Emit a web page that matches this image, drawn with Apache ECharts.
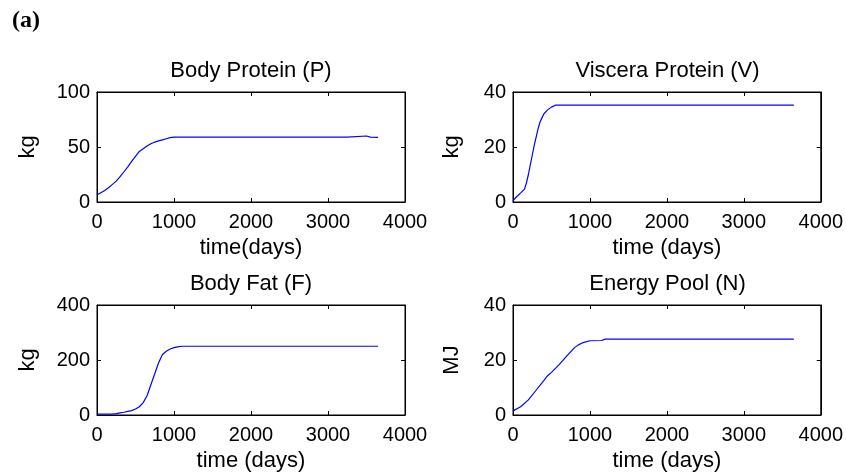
<!DOCTYPE html>
<html>
<head>
<meta charset="utf-8">
<script src="https://cdn.jsdelivr.net/npm/echarts@6/dist/echarts.min.js"></script>
<style>
  html, body { margin: 0; padding: 0; background: #fff; }
  #chart { width: 846px; height: 476px; }
</style>
</head>
<body>
<div id="chart"></div>
<script>
// Simulated growth curves, time in days
const xTicks = [0, 1000, 2000, 3000, 4000];

const proteinDays = [0, 50, 100, 150, 200, 250, 300, 350, 400, 450, 500, 550, 600, 650, 700, 750, 800, 850, 900, 950, 1000, 3250, 3270, 3500, 3550, 3650];
const proteinKg   = [6.5, 8.5, 10.5, 13, 16, 19, 23, 27.5, 32, 37, 41.5, 46, 48.5, 51, 53, 54.5, 55.5, 56.5, 57.5, 58.5, 59, 59, 60, 60, 59, 58.8];

const visceraDays = [0, 50, 100, 150, 175, 200, 225, 250, 275, 300, 325, 350, 375, 400, 450, 500, 550, 3650];
const visceraKg   = [0.5, 2, 3.3, 4.7, 7, 10, 13.5, 17, 20.5, 23.5, 26.5, 29, 30.5, 32, 33.5, 34.5, 35.2, 35.2];

const fatDays = [0, 100, 200, 250, 300, 350, 400, 450, 500, 550, 600, 650, 700, 750, 800, 850, 900, 950, 1000, 1050, 1100, 3650];
const fatKg   = [3, 3, 3.5, 5, 8, 10, 13, 16, 22, 30, 45, 70, 110, 150, 190, 220, 232, 240, 245, 248, 250, 250];

const energyDays = [0, 100, 200, 300, 400, 450, 500, 600, 700, 800, 850, 900, 1000, 1150, 1200, 3650];
const energyMJ   = [1.5, 3, 5.5, 9, 12.5, 14.3, 15.5, 18.3, 21.5, 24.5, 25.5, 26.2, 27, 27.1, 27.6, 27.6];

const panelTitles = ['Body Protein (P)', 'Viscera Protein (V)', 'Body Fat (F)', 'Energy Pool (N)'];
const xNames = ['time(days)', 'time (days)', 'time (days)', 'time (days)'];
const yNames = ['kg', 'kg', 'kg', 'MJ'];
const yMax = [100, 40, 400, 40];
const yStep = [50, 20, 200, 20];

const panels = [
  { days: proteinDays, vals: proteinKg },
  { days: visceraDays, vals: visceraKg },
  { days: fatDays, vals: fatKg },
  { days: energyDays, vals: energyMJ }
];

const FONT = '"Liberation Sans", Arial, Helvetica, sans-serif';
const FS = 20;      // tick labels
const FS_TXT = 22;  // titles and axis names
const INK = '#000';

// panel boxes in pixels
const boxes = [
  { left: 97, top: 92, width: 308, height: 110 },
  { left: 513, top: 92, width: 309, height: 110 },
  { left: 97, top: 305, width: 308, height: 110 },
  { left: 513, top: 305, width: 309, height: 110 }
];
const yNameGap = [58, 50, 58, 50];

const grids = [], xAxes = [], yAxes = [], series = [], titles = [];

titles.push({
  text: '(a)', left: 12, top: 9, padding: 0,
  textStyle: { fontFamily: '"Liberation Serif", "Times New Roman", serif', fontWeight: 'bold', fontSize: 24, color: INK }
});

const plain = v => String(v);
const mkLine = () => ({ show: true, onZero: false, lineStyle: { color: INK, width: 1 } });
const mkTick = () => ({ show: true, inside: true, length: 4, lineStyle: { color: INK, width: 1 } });

boxes.forEach((b, i) => {
  // framed plotting box
  grids.push({
    left: b.left, top: b.top, width: b.width, height: b.height,
    show: true, borderColor: INK, borderWidth: 1, backgroundColor: 'transparent'
  });
  titles.push({
    text: panelTitles[i], left: b.left + b.width / 2, top: b.top - 32, textAlign: 'center', padding: 0,
    textStyle: { fontFamily: FONT, fontWeight: 'normal', fontSize: FS_TXT, color: INK }
  });
  // bottom x axis with labels
  xAxes.push({
    gridIndex: i, type: 'value', position: 'bottom', min: xTicks[0], max: xTicks[xTicks.length - 1], interval: 1000,
    axisLine: mkLine(), axisTick: mkTick(), splitLine: { show: false },
    axisLabel: { fontFamily: FONT, fontSize: FS, color: INK, margin: 10, showMinLabel: true, showMaxLabel: true, formatter: plain },
    name: xNames[i], nameLocation: 'middle', nameGap: 35,
    nameTextStyle: { fontFamily: FONT, fontSize: FS_TXT, color: INK }
  });
  // top mirror axis, ticks only
  xAxes.push({
    gridIndex: i, type: 'value', position: 'top', min: xTicks[0], max: xTicks[xTicks.length - 1], interval: 1000,
    axisLine: mkLine(), axisTick: mkTick(), axisLabel: { show: false }, splitLine: { show: false }
  });
  yAxes.push({
    gridIndex: i, type: 'value', position: 'left', min: 0, max: yMax[i], interval: yStep[i],
    axisLine: mkLine(), axisTick: mkTick(), splitLine: { show: false },
    axisLabel: { fontFamily: FONT, fontSize: FS, color: INK, margin: 7, showMinLabel: true, showMaxLabel: true, formatter: plain },
    name: yNames[i], nameLocation: 'middle', nameGap: yNameGap[i],
    nameTextStyle: { fontFamily: FONT, fontSize: FS_TXT, color: INK }
  });
  // right mirror axis, ticks only
  yAxes.push({
    gridIndex: i, type: 'value', position: 'right', min: 0, max: yMax[i], interval: yStep[i],
    axisLine: mkLine(), axisTick: mkTick(), axisLabel: { show: false }, splitLine: { show: false }
  });
  const p = panels[i];
  series.push({
    type: 'line', xAxisIndex: 2 * i, yAxisIndex: 2 * i,
    data: p.days.map((d, k) => [d, p.vals[k]]),
    showSymbol: false, smooth: false, silent: true, animation: false,
    lineStyle: { color: '#0000ff', width: 1.2 }
  });
  // empty series keeps the mirror axes attached
  series.push({
    type: 'line', xAxisIndex: 2 * i + 1, yAxisIndex: 2 * i + 1,
    data: [], showSymbol: false, silent: true, animation: false
  });
});

const chart = echarts.init(document.getElementById('chart'), null, { renderer: 'canvas' });
chart.setOption({
  backgroundColor: '#fff',
  animation: false,
  title: titles,
  grid: grids,
  xAxis: xAxes,
  yAxis: yAxes,
  series
});
</script>
</body>
</html>
